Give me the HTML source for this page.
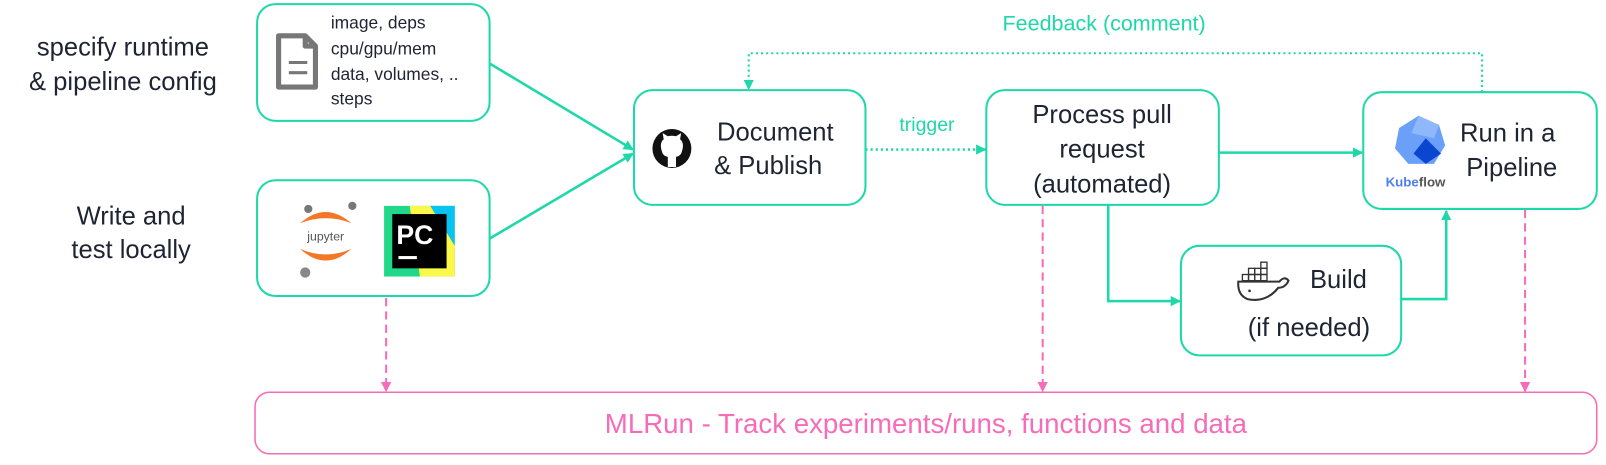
<!DOCTYPE html><html><head><style>body{margin:0;background:#fff}svg{display:block}text{font-family:"Liberation Sans",Arial,sans-serif;fill:#1f2433}</style></head><body>
<svg width="1606" height="465" viewBox="0 0 1568 454" preserveAspectRatio="none" xmlns="http://www.w3.org/2000/svg">
<defs>
<marker id="t" markerWidth="10" markerHeight="10" refX="9" refY="5" orient="auto" markerUnits="userSpaceOnUse"><path d="M0,0 L10,5 L0,10 z" fill="#1ed8a9"/></marker>
<marker id="p" markerWidth="10" markerHeight="10" refX="9" refY="5" orient="auto" markerUnits="userSpaceOnUse"><path d="M0,0 L10,5 L0,10 z" fill="#f66cb7"/></marker>
</defs>
<g fill="none" stroke="#1ed8a9" stroke-width="2">
<rect x="251" y="4" width="227" height="114" rx="18"/>
<rect x="251" y="176" width="227" height="113" rx="18"/>
<rect x="619" y="88" width="226" height="112" rx="18"/>
<rect x="963" y="88" width="227" height="112" rx="18"/>
<rect x="1331" y="90" width="228" height="114" rx="18"/>
<rect x="1153" y="240" width="215" height="107" rx="18"/>
</g>
<rect x="249" y="383" width="1310" height="60" rx="14" fill="none" stroke="#f66cb7" stroke-width="1.5"/>
<g stroke="#1ed8a9" stroke-width="2.5" fill="none">
<line x1="478" y1="62" x2="618" y2="146" marker-end="url(#t)"/>
<line x1="478" y1="233" x2="618" y2="150" marker-end="url(#t)"/>
<line x1="845" y1="146" x2="962" y2="146" stroke-dasharray="2,3" marker-end="url(#t)"/>
<line x1="1190" y1="149" x2="1330" y2="149" marker-end="url(#t)"/>
<polyline points="1082,200 1082,294 1152,294" marker-end="url(#t)"/>
<polyline points="1368,292 1412,292 1412,206" marker-end="url(#t)"/>
<polyline points="1447,90 1447,52 731,52 731,87" stroke-dasharray="2,3" stroke-width="2" marker-end="url(#t)"/>
</g>
<g stroke="#f66cb7" stroke-width="2" stroke-dasharray="8,5" fill="none">
<line x1="377" y1="291" x2="377" y2="382" marker-end="url(#p)"/>
<line x1="1018" y1="201" x2="1018" y2="382" marker-end="url(#p)"/>
<line x1="1489" y1="205" x2="1489" y2="382" marker-end="url(#p)"/>
</g>
<text x="120" y="54" font-size="25" text-anchor="middle">specify runtime</text>
<text x="120" y="88" font-size="25" text-anchor="middle">&amp; pipeline config</text>
<text x="128" y="219" font-size="25" text-anchor="middle">Write and</text>
<text x="128" y="252" font-size="25" text-anchor="middle">test locally</text>
<g font-size="17"><text x="323" y="28">image, deps</text><text x="323" y="53">cpu/gpu/mem</text><text x="323" y="78">data, volumes, ..</text><text x="323" y="102">steps</text></g>
<path d="M272,35 h26 l10,10 v40 h-36 z M298,35 v10 h10" fill="none" stroke="#777" stroke-width="5" stroke-linejoin="round"/>
<line x1="282" y1="61" x2="300" y2="61" stroke="#777" stroke-width="3"/><line x1="282" y1="71" x2="300" y2="71" stroke="#777" stroke-width="3"/>
<path d="M293,218 Q318,196 343,218 Q318,208 293,218z" fill="#f37726"/>
<path d="M293,243 Q318,266 343,243 Q318,254 293,243z" fill="#f37726"/>
<text x="318" y="235" font-size="12" text-anchor="middle" style="fill:#555">jupyter</text>
<circle cx="301" cy="204" r="4" fill="#777"/><circle cx="344" cy="201" r="4" fill="#777"/><circle cx="298" cy="266" r="5" fill="#888"/>
<rect x="375" y="201" width="69" height="69" fill="#21d789"/><polygon points="400,201 444,201 444,270 410,270" fill="#fcf84a"/><polygon points="420,201 444,201 444,240" fill="#07c3f2"/>
<rect x="383" y="209" width="53" height="53" fill="#000"/>
<text x="387" y="238" font-size="26" font-weight="bold" style="fill:#fff">PC</text>
<rect x="389" y="250" width="18" height="3" fill="#fff"/>
<circle cx="656" cy="145" r="19" fill="#111"/>
<path d="M647,150 q-4,-10 1,-14 l-1,-6 l5,3 q4,-1 8,0 l5,-3 l-1,6 q5,4 1,14 q-2,3 -5,3 v10 h-8 v-10 q-3,0 -5,-3z" fill="#fff"/>
<text x="757" y="137" font-size="25" text-anchor="middle">Document</text>
<text x="750" y="170" font-size="25" text-anchor="middle">&amp; Publish</text>
<text x="905" y="128" font-size="19" text-anchor="middle" style="fill:#1ed8a9">trigger</text>
<text x="1076" y="120" font-size="25" text-anchor="middle">Process pull</text>
<text x="1076" y="154" font-size="25" text-anchor="middle">request</text>
<text x="1076" y="188" font-size="25" text-anchor="middle">(automated)</text>
<text x="1078" y="30" font-size="21" text-anchor="middle" style="fill:#1ed8a9">Feedback (comment)</text>
<polygon points="1385,113 1405,122 1411,142 1400,160 1375,160 1362,145 1366,125" fill="#6aa0f7"/>
<polygon points="1385,113 1405,122 1400,135 1378,130" fill="#8fb8fb"/>
<polygon points="1392,135 1407,150 1392,160 1380,150" fill="#0b46d1"/>
<text x="1382" y="182" font-size="13" font-weight="bold" text-anchor="middle" style="fill:#4c7ef0">Kube<tspan style="fill:#555">flow</tspan></text>
<text x="1472" y="138" font-size="25" text-anchor="middle">Run in a</text>
<text x="1476" y="172" font-size="25" text-anchor="middle">Pipeline</text>
<path d="M1209,275 h40 q5,-6 9,-1 q-3,7 -10,7 q-12,15 -30,11 q-10,-4 -9,-17z" fill="none" stroke="#333" stroke-width="2"/>
<g fill="none" stroke="#333" stroke-width="1.3"><rect x="1213" y="268" width="6" height="6"/><rect x="1219" y="268" width="6" height="6"/><rect x="1225" y="268" width="6" height="6"/><rect x="1231" y="268" width="6" height="6"/><rect x="1219" y="262" width="6" height="6"/><rect x="1225" y="262" width="6" height="6"/><rect x="1231" y="262" width="6" height="6"/><rect x="1231" y="256" width="6" height="6"/></g>
<circle cx="1220" cy="284" r="1.3" fill="#333"/>
<text x="1279" y="281" font-size="25">Build</text>
<text x="1278" y="328" font-size="25" text-anchor="middle">(if needed)</text>
<text x="904" y="423" font-size="27" text-anchor="middle" style="fill:#f66cb7">MLRun - Track experiments/runs, functions and data</text>
</svg></body></html>
